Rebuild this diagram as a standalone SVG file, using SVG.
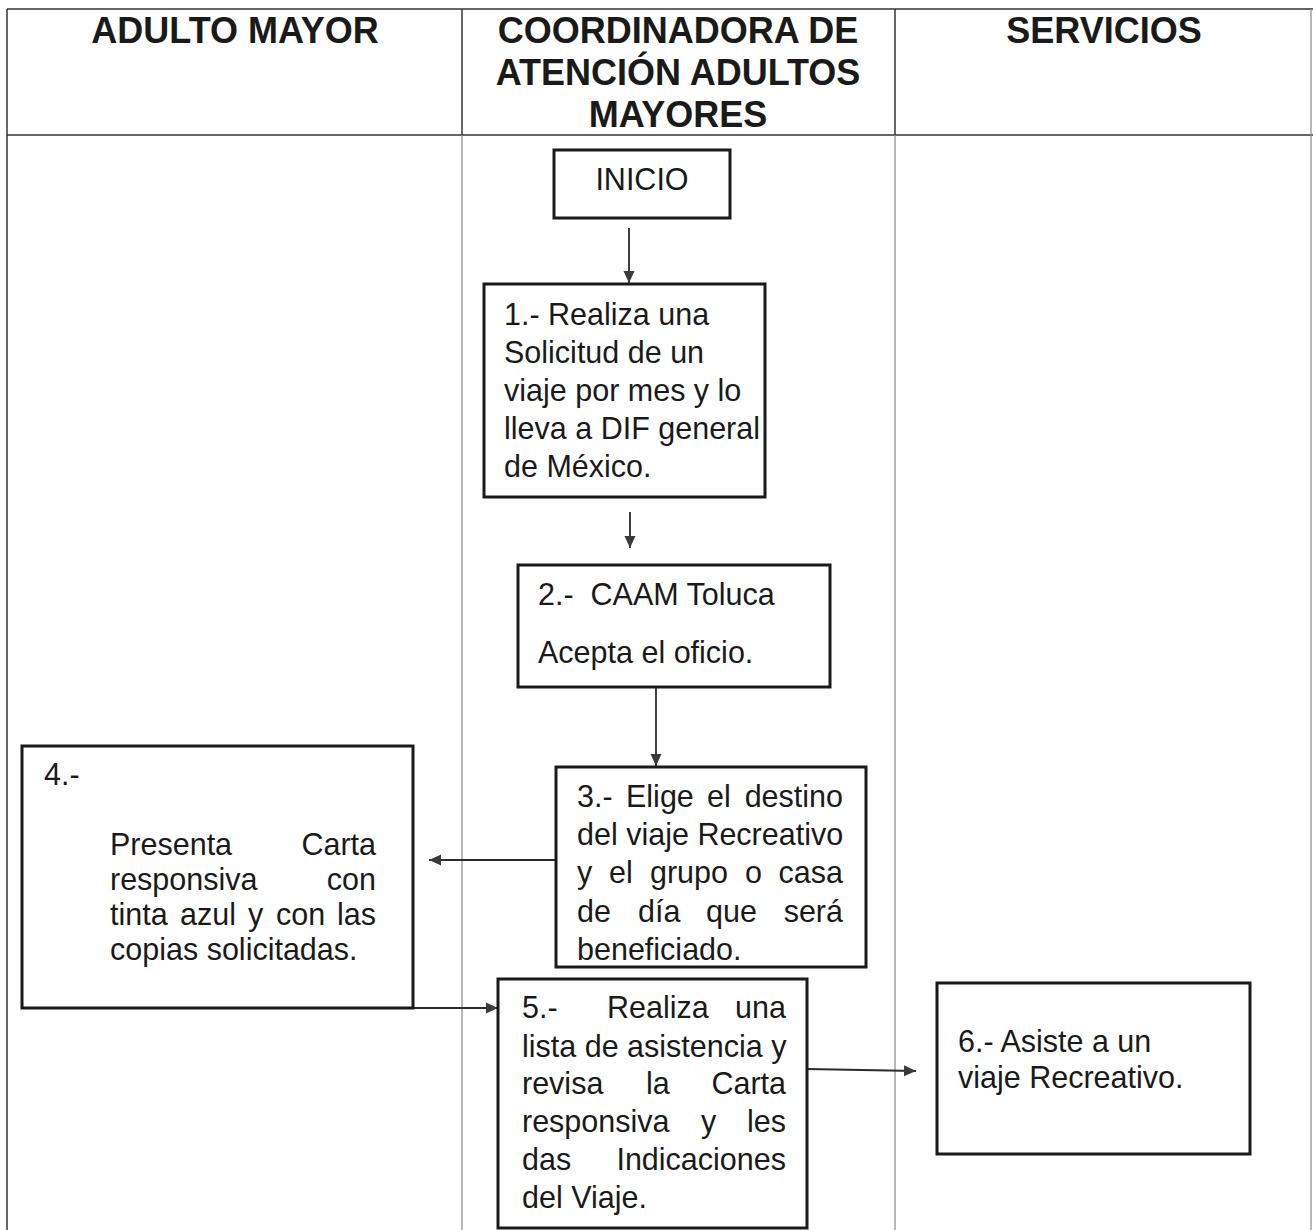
<svg xmlns="http://www.w3.org/2000/svg" width="1313" height="1230" viewBox="0 0 1313 1230">
  <style>
    .head { font-family: "Liberation Sans", Arial, sans-serif; font-size: 36px; font-weight: bold; fill: #1a1a1a; text-anchor: middle; }
    .txt { font-family: "Liberation Sans", Arial, sans-serif; font-size: 30.5px; fill: #1a1a1a; }
    .end { text-anchor: end; }
    .box { fill: #ffffff; stroke: #1a1a1a; stroke-width: 3; }
    .grid { stroke: #333333; stroke-width: 1.5; fill: none; }
    .lane { stroke: #8a8a8a; stroke-width: 1.2; fill: none; }
    .link { stroke: #2a2a2a; stroke-width: 1.8; fill: none; marker-end: url(#arrow); }
  </style>
  <defs>
    <marker id="arrow" markerUnits="userSpaceOnUse" markerWidth="14" markerHeight="14" refX="12" refY="7" orient="auto">
      <path d="M0,1.5 L12,7 L0,12.5 z" fill="#3a3a3a"/>
    </marker>
  </defs>

  <rect width="1313" height="1230" fill="#ffffff"/>

  <!-- swimlane table -->
  <g id="table">
    <line class="grid" x1="7" y1="9" x2="1313" y2="9"/>
    <line class="grid" x1="7" y1="135" x2="1313" y2="135"/>
    <line class="grid" x1="7" y1="9" x2="7" y2="1230"/>
    <line class="grid" x1="462" y1="9" x2="462" y2="135"/>
    <line class="grid" x1="895" y1="9" x2="895" y2="135"/>
    <line class="lane" x1="462" y1="135" x2="462" y2="1230"/>
    <line class="lane" x1="895" y1="135" x2="895" y2="1230"/>
    <line class="lane" x1="1311" y1="9" x2="1311" y2="1230"/>
    <text class="head" x="235" y="43">ADULTO MAYOR</text>
    <text class="head" x="678" y="43">COORDINADORA DE</text>
    <text class="head" x="678" y="85">ATENCIÓN ADULTOS</text>
    <text class="head" x="678" y="127">MAYORES</text>
    <text class="head" x="1104" y="43">SERVICIOS</text>
  </g>

  <!-- connectors -->
  <g id="connectors">
    <line class="link" x1="629" y1="228" x2="629" y2="283"/>
    <line class="link" x1="630" y1="512" x2="630" y2="548"/>
    <line class="link" x1="656" y1="687" x2="656" y2="766"/>
    <line class="link" x1="555" y1="860" x2="429" y2="860"/>
    <line class="link" x1="413" y1="1008" x2="498" y2="1008"/>
    <line class="link" x1="807" y1="1069" x2="916" y2="1071"/>
  </g>

  <g id="inicio">
    <rect class="box" x="554" y="150" width="176" height="68"/>
    <text class="txt" x="642" y="190" text-anchor="middle">INICIO</text>
  </g>

  <g id="paso1">
    <rect class="box" x="484" y="284" width="281" height="213"/>
    <text class="txt" x="504" y="325">1.- Realiza una</text>
    <text class="txt" x="504" y="363">Solicitud de un</text>
    <text class="txt" x="504" y="401">viaje por mes y lo</text>
    <text class="txt" x="504" y="439">lleva a DIF general</text>
    <text class="txt" x="504" y="477">de México.</text>
  </g>

  <g id="paso2">
    <rect class="box" x="518" y="565" width="312" height="122"/>
    <text class="txt" x="538" y="605" xml:space="preserve">2.-  CAAM Toluca</text>
    <text class="txt" x="538" y="663">Acepta el oficio.</text>
  </g>

  <g id="paso3">
    <rect class="box" x="556" y="767" width="310" height="200"/>
    <text class="txt" y="807"><tspan x="577">3.-</tspan><tspan x="626">Elige</tspan><tspan x="707">el</tspan></text>
    <text class="txt end" x="843" y="807">destino</text>
    <text class="txt" x="577" y="845">del viaje Recreativo</text>
    <text class="txt" y="883"><tspan x="577">y</tspan><tspan x="609">el</tspan><tspan x="650">grupo</tspan><tspan x="745">o</tspan></text>
    <text class="txt end" x="843" y="883">casa</text>
    <text class="txt" y="922"><tspan x="577">de</tspan><tspan x="638">día</tspan><tspan x="706">que</tspan></text>
    <text class="txt end" x="843" y="922">será</text>
    <text class="txt" x="577" y="960">beneficiado.</text>
  </g>

  <g id="paso4">
    <rect class="box" x="22" y="746" width="391" height="262"/>
    <text class="txt" x="44" y="785">4.-</text>
    <text class="txt" x="110" y="855">Presenta</text>
    <text class="txt end" x="376" y="855">Carta</text>
    <text class="txt" x="110" y="890">responsiva</text>
    <text class="txt end" x="376" y="890">con</text>
    <text class="txt" y="925"><tspan x="110">tinta</tspan><tspan x="180">azul</tspan><tspan x="248">y</tspan><tspan x="276">con</tspan></text>
    <text class="txt end" x="376" y="925">las</text>
    <text class="txt" x="110" y="960">copias solicitadas.</text>
  </g>

  <g id="paso5">
    <rect class="box" x="498" y="979" width="309" height="249"/>
    <text class="txt" y="1018"><tspan x="522">5.-</tspan><tspan x="607">Realiza</tspan></text>
    <text class="txt end" x="786" y="1018">una</text>
    <text class="txt" x="522" y="1057">lista de asistencia y</text>
    <text class="txt" y="1094"><tspan x="522">revisa</tspan><tspan x="646">la</tspan></text>
    <text class="txt end" x="786" y="1094">Carta</text>
    <text class="txt" y="1132"><tspan x="522">responsiva</tspan><tspan x="701">y</tspan></text>
    <text class="txt end" x="786" y="1132">les</text>
    <text class="txt" x="522" y="1170">das</text>
    <text class="txt end" x="786" y="1170">Indicaciones</text>
    <text class="txt" x="522" y="1208">del Viaje.</text>
  </g>

  <g id="paso6">
    <rect class="box" x="937" y="983" width="313" height="171"/>
    <text class="txt" x="958" y="1052">6.- Asiste a un</text>
    <text class="txt" x="958" y="1088">viaje Recreativo.</text>
  </g>
</svg>
